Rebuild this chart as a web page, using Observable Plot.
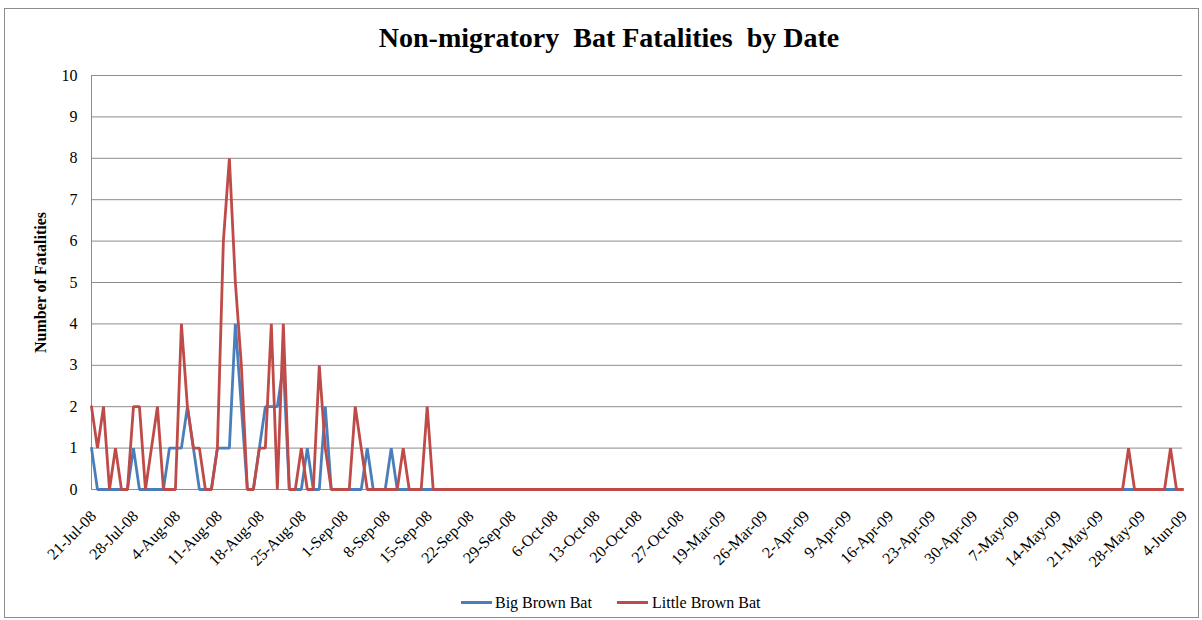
<!DOCTYPE html>
<html>
<head>
<meta charset="utf-8">
<script src="https://cdn.jsdelivr.net/npm/d3@7"></script>
<script src="https://cdn.jsdelivr.net/npm/@observablehq/plot@0.6"></script>
<style>
  html, body { margin: 0; padding: 0; background: #fff; }
  #frame { position: relative; width: 1202px; height: 620px; overflow: hidden;
           font-family: "Liberation Serif", "Times New Roman", serif; color: #000; }
  #border { position: absolute; left: 4px; top: 8px; width: 1195px; height: 610px;
            border: 1px solid #8c8c8c; box-sizing: border-box; }
  #title { position: absolute; left: 8px; width: 1202px; top: 22px; text-align: center;
           font-weight: bold; font-size: 28px; white-space: pre; }
  #chart { position: absolute; left: 0; top: 0; }
  .sw { position: absolute; top: 601px; height: 3px; }
  .lt { position: absolute; top: 593px; font-size: 16px; line-height: 20px; white-space: pre; }
</style>
</head>
<body>
<div id="frame">
  <div id="border"></div>
  <div id="chart"></div>
  <div id="title"></div>
  <div id="legend"></div>
</div>
<script>
// ---- data ----
const titleText = "Non-migratory  Bat Fatalities  by Date";
const yTitle = "Number of Fatalities";
const seriesNames = ["Big Brown Bat", "Little Brown Bat"];
const seriesColors = ["#4A7EBB", "#BE4B48"];
// survey periods (consecutive daily categories)
const surveyPeriods = [["2008-07-21", "2008-11-02"], ["2009-03-19", "2009-06-04"]];
const tickLabels = ["21-Jul-08","28-Jul-08","4-Aug-08","11-Aug-08","18-Aug-08","25-Aug-08","1-Sep-08",
  "8-Sep-08","15-Sep-08","22-Sep-08","29-Sep-08","6-Oct-08","13-Oct-08","20-Oct-08","27-Oct-08",
  "19-Mar-09","26-Mar-09","2-Apr-09","9-Apr-09","16-Apr-09","23-Apr-09","30-Apr-09","7-May-09",
  "14-May-09","21-May-09","28-May-09","4-Jun-09"];
const yTicks = [0,1,2,3,4,5,6,7,8,9,10];
const bigBrownBat = [
  1,0,0,0,0,0,0,1,0,0,
  0,0,0,1,1,1,2,1,0,0,
  0,1,1,1,4,2,0,0,1,2,
  2,2,3,0,0,0,1,0,0,2,
  0,0,0,0,0,0,1,0,0,0,
  1,0,0,0,0,0,0,0,0,0,
  0,0,0,0,0,0,0,0,0,0,
  0,0,0,0,0,0,0,0,0,0,
  0,0,0,0,0,0,0,0,0,0,
  0,0,0,0,0,0,0,0,0,0,
  0,0,0,0,0,0,0,0,0,0,
  0,0,0,0,0,0,0,0,0,0,
  0,0,0,0,0,0,0,0,0,0,
  0,0,0,0,0,0,0,0,0,0,
  0,0,0,0,0,0,0,0,0,0,
  0,0,0,0,0,0,0,0,0,0,
  0,0,0,0,0,0,0,0,0,0,
  0,0,0,0,0,0,0,0,0,0,
  0,0,0
];
const littleBrownBat = [
  2,1,2,0,1,0,0,2,2,0,
  1,2,0,0,0,4,2,1,1,0,
  0,1,6,8,5,3,0,0,1,1,
  4,0,4,0,0,1,0,0,3,1,
  0,0,0,0,2,1,0,0,0,0,
  0,0,1,0,0,0,2,0,0,0,
  0,0,0,0,0,0,0,0,0,0,
  0,0,0,0,0,0,0,0,0,0,
  0,0,0,0,0,0,0,0,0,0,
  0,0,0,0,0,0,0,0,0,0,
  0,0,0,0,0,0,0,0,0,0,
  0,0,0,0,0,0,0,0,0,0,
  0,0,0,0,0,0,0,0,0,0,
  0,0,0,0,0,0,0,0,0,0,
  0,0,0,0,0,0,0,0,0,0,
  0,0,0,0,0,0,0,0,0,0,
  0,0,0,0,0,0,0,0,0,0,
  0,0,0,1,0,0,0,0,0,0,
  1,0,0
];

// ---- build ----
const fmt = d3.timeFormat("%-d-%b-%y");
const categories = surveyPeriods.flatMap(([a, b]) => {
  const start = d3.timeParse("%Y-%m-%d")(a), end = d3.timeParse("%Y-%m-%d")(b);
  return d3.timeDay.range(start, d3.timeDay.offset(end, 1)).map(fmt);
});
const rows = [];
categories.forEach((c, i) => {
  rows.push({date: c, series: seriesNames[0], value: bigBrownBat[i]});
  rows.push({date: c, series: seriesNames[1], value: littleBrownBat[i]});
});

const grid = "#8c8c8c";
const chart = Plot.plot({
  width: 1202, height: 620,
  marginLeft: 91, marginRight: 20, marginTop: 75, marginBottom: 131,
  style: {fontFamily: '"Liberation Serif", "Times New Roman", serif', fontSize: "16px", background: "transparent", color: "#000"},
  x: {type: "point", domain: categories, padding: 0},
  y: {domain: [0, 10]},
  color: {domain: seriesNames, range: seriesColors},
  marks: [
    Plot.gridY(yTicks.slice(1), {stroke: grid, strokeOpacity: 1, strokeWidth: 1}),
    Plot.axisY(yTicks, {tickSize: 0, tickPadding: 14, label: null, fontSize: 16}),
    Plot.axisX(tickLabels, {tickSize: 0, tickPadding: 6, tickRotate: -45, label: null, fontSize: 16, dx: 2, dy: 18}),
    Plot.ruleX([categories[0]], {stroke: grid}),
    Plot.ruleY([0], {stroke: grid}),
    Plot.text([yTitle], {frameAnchor: "left", textAnchor: "middle", rotate: -90, dx: -51, fontWeight: "bold", fontSize: 16}),
    Plot.line(rows, {x: "date", y: "value", z: "series", stroke: "series", strokeWidth: 2.8, strokeLinejoin: "miter"})
  ]
});
document.getElementById("chart").appendChild(chart);
document.getElementById("title").textContent = titleText;

const legendPos = [{sw: 461, tx: 495}, {sw: 617, tx: 652}];
const legend = document.getElementById("legend");
seriesNames.forEach((name, i) => {
  const s = document.createElement("div");
  s.className = "sw"; s.style.left = legendPos[i].sw + "px"; s.style.width = "31px";
  s.style.background = seriesColors[i];
  legend.appendChild(s);
  const t = document.createElement("div");
  t.className = "lt"; t.style.left = legendPos[i].tx + "px"; t.textContent = name;
  legend.appendChild(t);
});
</script>
</body>
</html>
